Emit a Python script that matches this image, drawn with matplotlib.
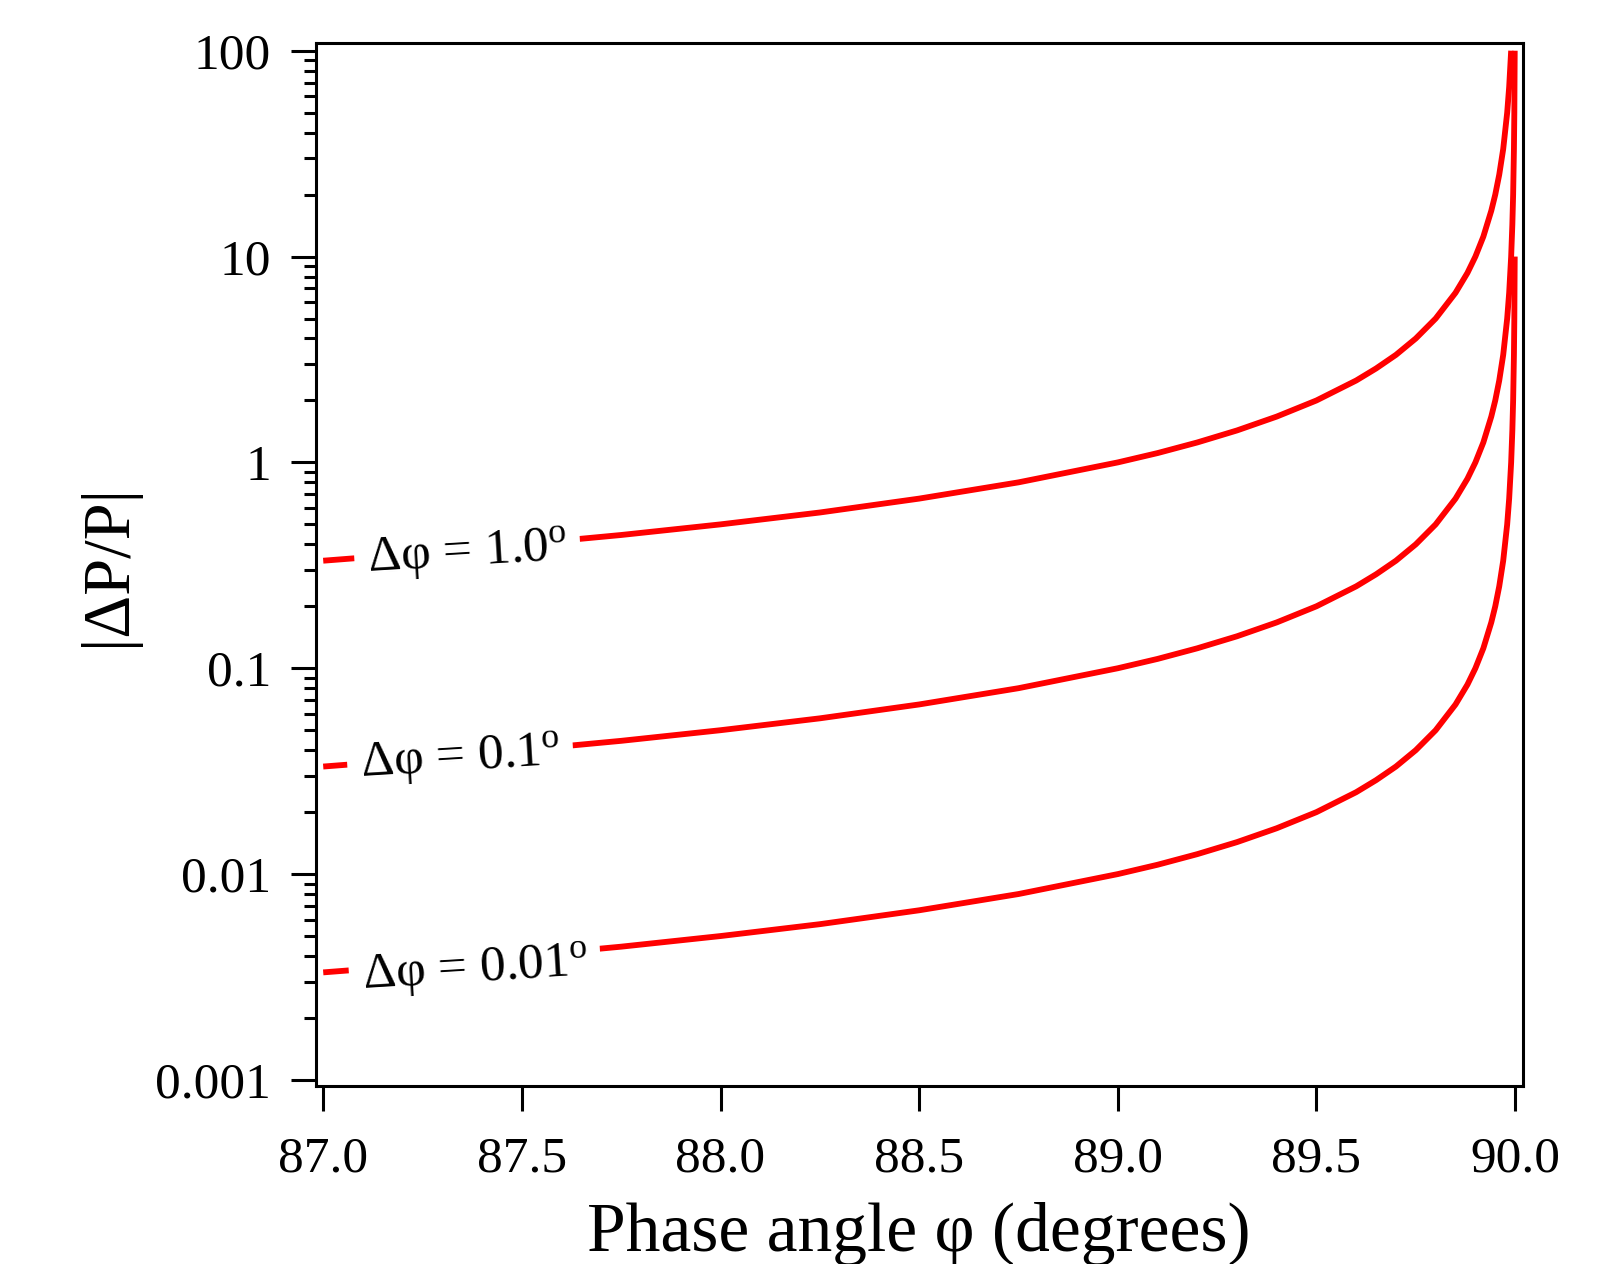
"""
Relative power error |dP/P| against phase angle for three phase uncertainties.

Output:
    out.png
"""

import matplotlib
matplotlib.use("Agg")
import matplotlib.pyplot as plt
from matplotlib.ticker import FixedLocator, LogLocator, NullFormatter


OUTPUT_PATH = "out.png"

# phase angle in degrees
PHASE_ANGLE = [
    87.0, 87.25, 87.5, 87.75, 88.0, 88.25, 88.5, 88.75, 89.0, 89.1,
    89.2, 89.3, 89.4, 89.5, 89.6, 89.65, 89.7, 89.75, 89.8, 89.85,
    89.88, 89.9, 89.92, 89.94, 89.95, 89.96, 89.97, 89.98, 89.985, 89.99,
    89.993, 89.995, 89.997, 89.998, 89.999,
]

# |dP/P| for d(phi) = 1.0 deg (stops where it reaches 100)
ERROR_1_0 = [
    0.333, 0.363, 0.400, 0.444, 0.500, 0.571, 0.667, 0.800, 1.00, 1.11,
    1.25, 1.43, 1.67, 2.00, 2.50, 2.86, 3.33, 4.00, 5.00, 6.67,
    8.33, 10.0, 12.5, 16.7, 20.0, 25.0, 33.3, 50.0, 66.7, 100.0,
]

# |dP/P| for d(phi) = 0.1 deg
ERROR_0_1 = [
    0.0333, 0.0363, 0.0400, 0.0444, 0.0500, 0.0571, 0.0667, 0.0800, 0.100, 0.111,
    0.125, 0.143, 0.167, 0.200, 0.250, 0.286, 0.333, 0.400, 0.500, 0.667,
    0.833, 1.00, 1.25, 1.67, 2.00, 2.50, 3.33, 5.00, 6.67, 10.0,
    14.3, 20.0, 33.3, 50.0, 100.0,
]

# |dP/P| for d(phi) = 0.01 deg
ERROR_0_01 = [
    0.00333, 0.00363, 0.00400, 0.00444, 0.00500, 0.00571, 0.00667, 0.00800, 0.0100, 0.0111,
    0.0125, 0.0143, 0.0167, 0.0200, 0.0250, 0.0286, 0.0333, 0.0400, 0.0500, 0.0667,
    0.0833, 0.100, 0.125, 0.167, 0.200, 0.250, 0.333, 0.500, 0.667, 1.00,
    1.43, 2.00, 3.33, 5.00, 10.0,
]

CURVE_LABELS = [r"Δφ = 1.0$^\mathrm{o}$", r"Δφ = 0.1$^\mathrm{o}$", r"Δφ = 0.01$^\mathrm{o}$"]
LABEL_X = [87.363, 87.345, 87.382]
LABEL_Y = [0.355, 0.0359, 0.00338]

X_TICKS = [87.0, 87.5, 88.0, 88.5, 89.0, 89.5, 90.0]
Y_TICKS = [0.001, 0.01, 0.1, 1, 10, 100]
Y_TICK_LABELS = ["0.001", "0.01", "0.1", "1", "10", "100"]

RED = "#ff0000"


def setup_style():
    plt.rcParams["font.family"] = ["Liberation Serif", "DejaVu Serif"]
    plt.rcParams["mathtext.fontset"] = "custom"
    plt.rcParams["mathtext.rm"] = "Liberation Serif"
    plt.rcParams["mathtext.it"] = "Liberation Serif:italic"


def plot_error_curves():
    fig = plt.figure(figsize=(16.13, 12.64), dpi=100)
    axis = fig.add_axes([0.1957, 0.1411, 0.7483, 0.8246])

    series = [ERROR_1_0, ERROR_0_1, ERROR_0_01]
    for values in series:
        axis.plot(
            PHASE_ANGLE[: len(values)],
            values,
            color=RED,
            linewidth=4.2,
            solid_capstyle="butt",
            zorder=2,
        )

    for text, x, y in zip(CURVE_LABELS, LABEL_X, LABEL_Y):
        axis.text(
            x, y, text,
            fontsize=37,
            ha="center",
            va="center",
            rotation=3.5,
            rotation_mode="anchor",
            bbox=dict(boxstyle="square,pad=0.25", facecolor="white", edgecolor="none"),
            zorder=3,
        )

    axis.set_yscale("log")
    axis.set_xlim(86.981, 90.019)
    axis.set_ylim(0.000938, 108.6)

    axis.xaxis.set_major_locator(FixedLocator(X_TICKS))
    axis.set_xticklabels([f"{t:.1f}" for t in X_TICKS])
    axis.yaxis.set_major_locator(FixedLocator(Y_TICKS))
    axis.set_yticklabels(Y_TICK_LABELS)
    axis.yaxis.set_minor_locator(LogLocator(base=10, subs=range(2, 10), numticks=20))
    axis.yaxis.set_minor_formatter(NullFormatter())

    for spine in axis.spines.values():
        spine.set_linewidth(2.2)

    axis.tick_params(axis="both", which="major", direction="out", length=18,
                     width=2.2, labelsize=37, pad=14)
    axis.tick_params(axis="y", which="minor", direction="out", length=9, width=2.2)
    axis.tick_params(axis="x", pad=18)

    axis.set_xlabel("Phase angle φ (degrees)", fontsize=50, labelpad=14)
    axis.set_ylabel("|ΔP/P|", fontsize=48, labelpad=12)

    fig.savefig(OUTPUT_PATH, dpi=100)
    plt.close(fig)
    return OUTPUT_PATH


def main():
    setup_style()
    path = plot_error_curves()
    print(f"Saved plot: {path}")


if __name__ == "__main__":
    main()
